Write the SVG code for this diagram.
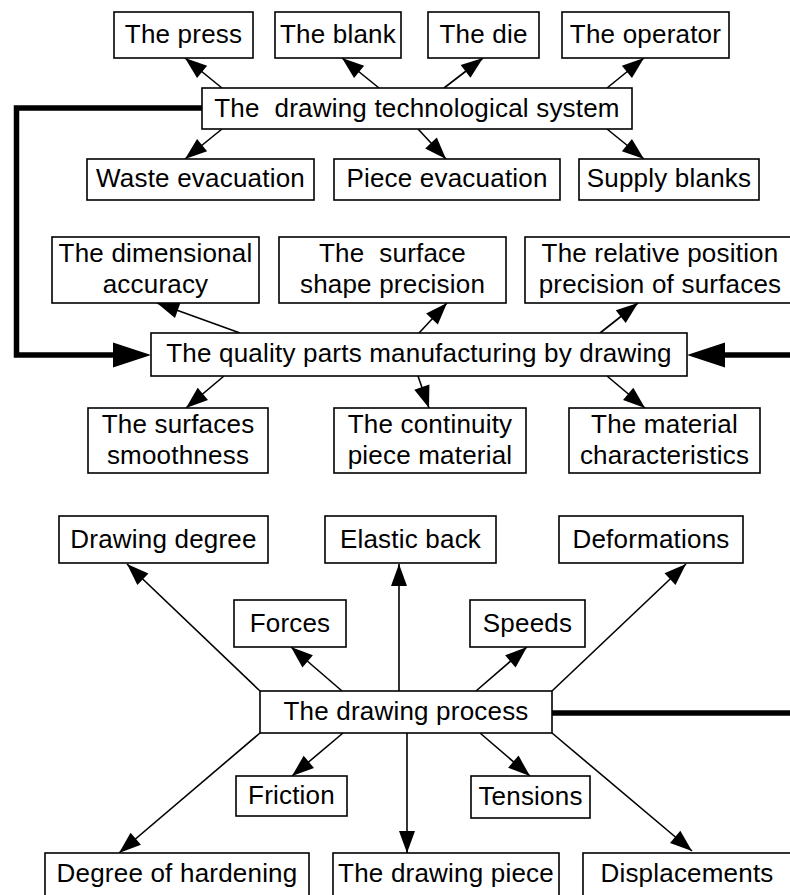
<svg xmlns="http://www.w3.org/2000/svg" width="790" height="895" viewBox="0 0 790 895">
  <style>
    .box { fill: #fff; stroke: #000; stroke-width: 1.6; }
    .lbl { font-family: "Liberation Sans", Arial, sans-serif; font-size: 26px; letter-spacing: 0.2px; text-anchor: middle; fill: #000; white-space: pre; }
    .edge { fill: none; stroke: #000; stroke-width: 1.6; marker-end: url(#arrow); }
    .thick { fill: none; stroke: #000; stroke-width: 5.5; }
  </style>
  <defs>
    <marker id="arrow" markerUnits="userSpaceOnUse" viewBox="0 0 22 16" markerWidth="22" markerHeight="16" refX="22" refY="8" orient="auto" overflow="visible">
      <path d="M0,0 L22,8 L0,16 z" fill="#000"/>
    </marker>
    <marker id="bigArrow" markerUnits="userSpaceOnUse" viewBox="0 0 38 25" markerWidth="38" markerHeight="25" refX="0" refY="12.5" orient="auto" overflow="visible">
      <path d="M0,0 L38,12.5 L0,25 z" fill="#000"/>
    </marker>
  </defs>
  <rect width="790" height="895" fill="#fff"/>

  <!-- connectors -->
  <g id="connectors">
    <!-- technological system -->
    <line class="edge" x1="222" y1="88" x2="185" y2="58"/>
    <line class="edge" x1="379" y1="88" x2="342" y2="58"/>
    <line class="edge" x1="444" y1="88" x2="483" y2="58"/>
    <line class="edge" x1="607" y1="88" x2="644" y2="58"/>
    <line class="edge" x1="222" y1="129" x2="185" y2="159"/>
    <line class="edge" x1="418" y1="129" x2="446" y2="159"/>
    <line class="edge" x1="607" y1="129" x2="644" y2="159"/>
    <!-- quality -->
    <line class="edge" x1="240" y1="333" x2="157" y2="303"/>
    <line class="edge" x1="419" y1="333" x2="447" y2="303"/>
    <line class="edge" x1="600" y1="333" x2="638" y2="303"/>
    <line class="edge" x1="224" y1="376" x2="186" y2="408"/>
    <line class="edge" x1="418" y1="376" x2="429" y2="408"/>
    <line class="edge" x1="607" y1="376" x2="645" y2="408"/>
    <!-- drawing process -->
    <line class="edge" x1="260" y1="691" x2="127" y2="564"/>
    <line class="edge" x1="342" y1="691" x2="291" y2="647"/>
    <line class="edge" x1="399" y1="691" x2="399" y2="564"/>
    <line class="edge" x1="476" y1="691" x2="527" y2="647"/>
    <line class="edge" x1="552" y1="691" x2="686" y2="564"/>
    <line class="edge" x1="260" y1="733" x2="119" y2="853"/>
    <line class="edge" x1="343" y1="733" x2="292" y2="776"/>
    <line class="edge" x1="407" y1="733" x2="407" y2="853"/>
    <line class="edge" x1="480" y1="733" x2="530" y2="776"/>
    <line class="edge" x1="552" y1="733" x2="692" y2="851"/>
    <!-- heavy links -->
    <path class="thick" d="M202,108 H16.5 V355 H113" marker-end="url(#bigArrow)"/>
    <path class="thick" d="M800,355 H725" marker-end="url(#bigArrow)"/>
    <path class="thick" d="M552,713 H800"/>
  </g>

  <!-- technological system block -->
  <g id="press"><rect class="box" x="114" y="12" width="139" height="46"/><text class="lbl" x="183.5" y="43">The press</text></g>
  <g id="blank"><rect class="box" x="275" y="12" width="126" height="46"/><text class="lbl" x="338" y="43">The blank</text></g>
  <g id="die"><rect class="box" x="428" y="12" width="111" height="46"/><text class="lbl" x="483.5" y="43">The die</text></g>
  <g id="operator"><rect class="box" x="562" y="12" width="167" height="46"/><text class="lbl" x="645.5" y="43">The operator</text></g>
  <g id="system"><rect class="box" x="202" y="88" width="430" height="41"/><text class="lbl" x="417" y="117" xml:space="preserve">The  drawing technological system</text></g>
  <g id="waste"><rect class="box" x="87" y="159" width="227" height="41"/><text class="lbl" x="200.5" y="187">Waste evacuation</text></g>
  <g id="piece-evacuation"><rect class="box" x="334" y="159" width="226" height="41"/><text class="lbl" x="447" y="187">Piece evacuation</text></g>
  <g id="supply"><rect class="box" x="579" y="159" width="180" height="41"/><text class="lbl" x="669" y="187">Supply blanks</text></g>

  <!-- quality block -->
  <g id="dimensional"><rect class="box" x="52" y="237" width="207" height="66"/><text class="lbl" x="155.5" y="262">The dimensional</text><text class="lbl" x="155.5" y="293">accuracy</text></g>
  <g id="shape"><rect class="box" x="279" y="237" width="227" height="66"/><text class="lbl" x="392.5" y="262" xml:space="preserve">The  surface</text><text class="lbl" x="392.5" y="293">shape precision</text></g>
  <g id="position"><rect class="box" x="525" y="237" width="270" height="66"/><text class="lbl" x="660" y="262">The relative position</text><text class="lbl" x="660" y="293">precision of surfaces</text></g>
  <g id="quality"><rect class="box" x="151" y="333" width="536" height="43"/><text class="lbl" x="419" y="362">The quality parts manufacturing by drawing</text></g>
  <g id="smoothness"><rect class="box" x="88" y="408" width="180" height="65"/><text class="lbl" x="178" y="433">The surfaces</text><text class="lbl" x="178" y="464">smoothness</text></g>
  <g id="continuity"><rect class="box" x="334" y="408" width="192" height="65"/><text class="lbl" x="430" y="433">The continuity</text><text class="lbl" x="430" y="464">piece material</text></g>
  <g id="material"><rect class="box" x="569" y="408" width="191" height="65"/><text class="lbl" x="664.5" y="433">The material</text><text class="lbl" x="664.5" y="464">characteristics</text></g>

  <!-- drawing process block -->
  <g id="drawing-degree"><rect class="box" x="59" y="516" width="209" height="47"/><text class="lbl" x="163.5" y="548">Drawing degree</text></g>
  <g id="elastic"><rect class="box" x="325" y="516" width="171" height="47"/><text class="lbl" x="410.5" y="548">Elastic back</text></g>
  <g id="deformations"><rect class="box" x="559" y="516" width="184" height="47"/><text class="lbl" x="651" y="548">Deformations</text></g>
  <g id="forces"><rect class="box" x="234" y="600" width="112" height="47"/><text class="lbl" x="290" y="632">Forces</text></g>
  <g id="speeds"><rect class="box" x="470" y="600" width="115" height="47"/><text class="lbl" x="527.5" y="632">Speeds</text></g>
  <g id="process"><rect class="box" x="260" y="691" width="292" height="42"/><text class="lbl" x="406" y="720">The drawing process</text></g>
  <g id="friction"><rect class="box" x="236" y="776" width="111" height="40"/><text class="lbl" x="291.5" y="804">Friction</text></g>
  <g id="tensions"><rect class="box" x="471" y="776" width="119" height="42"/><text class="lbl" x="530.5" y="805">Tensions</text></g>
  <g id="hardening"><rect class="box" x="45" y="853" width="264" height="46"/><text class="lbl" x="177" y="882">Degree of hardening</text></g>
  <g id="drawing-piece"><rect class="box" x="333" y="853" width="226" height="46"/><text class="lbl" x="446" y="882">The drawing piece</text></g>
  <g id="displacements"><rect class="box" x="583" y="853" width="208" height="46"/><text class="lbl" x="687" y="882">Displacements</text></g>
</svg>
